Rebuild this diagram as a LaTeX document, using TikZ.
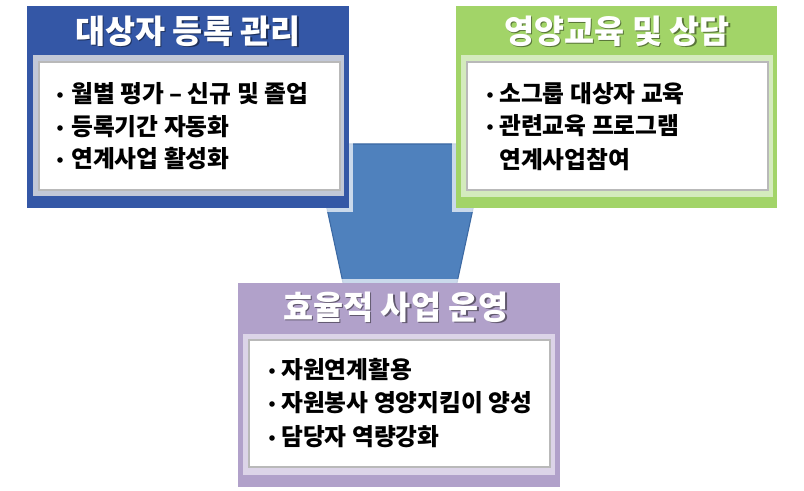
\documentclass[tikz,border=0pt]{standalone}
\usepackage{fontspec}
\newfontfamily\kr{Noto Sans CJK KR}
\definecolor{bluemain}{HTML}{3457A6}
\definecolor{blueband}{HTML}{C2C8D7}
\definecolor{greenmain}{HTML}{A2D468}
\definecolor{greenband}{HTML}{D4EBBD}
\definecolor{purplemain}{HTML}{B1A1CA}
\definecolor{purpleband}{HTML}{DCD4E8}
\definecolor{arrowfill}{HTML}{4F81BD}
\definecolor{arrowline}{HTML}{3C69A3}
\definecolor{edgegray}{HTML}{B9B9B9}
\begin{document}
\begin{tikzpicture}[x=0.75pt,y=-0.75pt,
  glowbox/.style={fill=white,fill opacity=0.7},
  whitebox/.style={fill=white,draw=edgegray,line width=1.3pt},
  titletext/.style={font=\kr\bfseries\fontsize{24.5}{28}\selectfont,text=white,inner sep=0pt},
  titleshadow/.style={font=\kr\bfseries\fontsize{24.5}{28}\selectfont,text=black,text opacity=0.45,inner sep=0pt},
  bodytext/.style={font=\kr\bfseries\fontsize{17.8}{21}\selectfont,text=black,anchor=west,inner sep=0pt},
  bulletdot/.style={circle,fill=black,inner sep=0pt,minimum size=4.2pt}]
\useasboundingbox[fill=white] (0,0) rectangle (804,491);
% funnel shape behind the boxes
\draw[fill=arrowfill,draw=arrowline,line width=0.8pt] (313,144) -- (487,144) -- (455,292) -- (345,292) -- cycle;
% blue box
\fill[glowbox] (23,2) rectangle (353,212);
\fill[bluemain] (27,6) rectangle (349,208);
\fill[blueband] (33,55) rectangle (344,196);
\path[whitebox] (39,62) rectangle (340,190);
% green box
\fill[glowbox] (452,2) rectangle (781,212);
\fill[greenmain] (456,6) rectangle (777,208);
\fill[greenband] (461,55) rectangle (773,197);
\path[whitebox] (467,62) rectangle (768,190);
% purple box
\fill[glowbox] (234,279) rectangle (564,491);
\fill[purplemain] (238,283) rectangle (560,487);
\fill[purpleband] (243,334) rectangle (555,475);
\path[whitebox] (249,340) rectangle (550,467);
% titles
\node[titleshadow] (t1s) at (189.5,32.5) {대상자 등록 관리};
\node[titletext] (t1) at (188,31) {대상자 등록 관리};
\node[titleshadow] (t2s) at (618.5,32.5) {영양교육 및 상담};
\node[titletext] (t2) at (617,31) {영양교육 및 상담};
\node[titleshadow] (t3s) at (397.5,308.5) {효율적 사업 운영};
\node[titletext] (t3) at (396,307) {효율적 사업 운영};
% blue body
\node[bulletdot] (b1d1) at (60,95) {};
\node[bodytext] (b1l1) at (71,94) {월별 평가 – 신규 및 졸업};
\node[bulletdot] (b1d2) at (60,128) {};
\node[bodytext] (b1l2) at (71,127) {등록기간 자동화};
\node[bulletdot] (b1d3) at (60,160) {};
\node[bodytext] (b1l3) at (71,159) {연계사업 활성화};
% green body
\node[bulletdot] (b2d1) at (490,95) {};
\node[bodytext] (b2l1) at (499,94) {소그룹 대상자 교육};
\node[bulletdot] (b2d2) at (490,127) {};
\node[bodytext] (b2l2) at (499,126) {관련교육 프로그램};
\node[bodytext] (b2l3) at (499,160) {연계사업참여};
% purple body
\node[bulletdot] (b3d1) at (272,371) {};
\node[bodytext] (b3l1) at (281,370) {자원연계활용};
\node[bulletdot] (b3d2) at (272,404) {};
\node[bodytext] (b3l2) at (281,403) {자원봉사 영양지킴이 양성};
\node[bulletdot] (b3d3) at (272,438) {};
\node[bodytext] (b3l3) at (281,437) {담당자 역량강화};
\end{tikzpicture}
\end{document}
